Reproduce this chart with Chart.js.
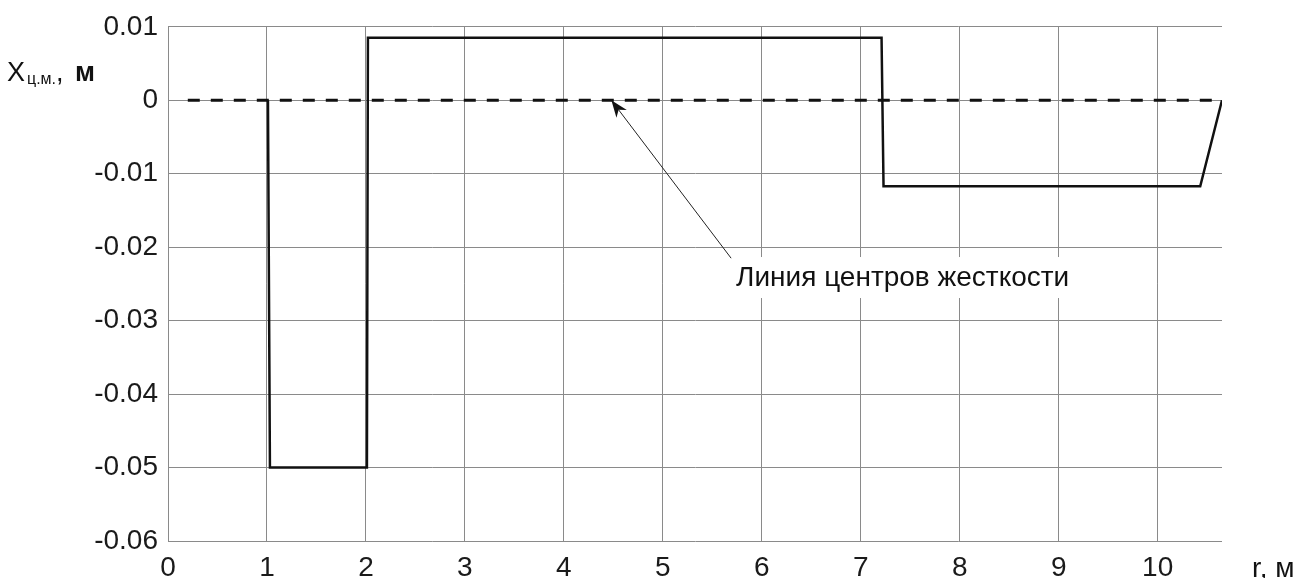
<!DOCTYPE html>
<html>
<head>
<meta charset="utf-8">
<script src="https://cdn.jsdelivr.net/npm/chart.js@4/dist/chart.umd.min.js"></script>
<style>
  html, body { margin: 0; padding: 0; background: #fff; }
  #wrap { width: 1304px; height: 578px; position: relative; }
</style>
</head>
<body>
<div id="wrap"><canvas id="c" width="1304" height="578"></canvas></div>
<script>
// Radial coordinate r, m, and offset of the mass centre x_ц.м., m
const profileR = [1.01, 1.03, 2.01, 2.02, 7.21, 7.23, 10.43, 10.65];
const profileX = [0, -0.05, -0.05, 0.0085, 0.0085, -0.0117, -0.0117, 0];

// Line of stiffness centres (lies on zero)
const stiffR = [0.2, 10.65];
const stiffX = [0, 0];

// Axis ranges and ticks
const rTicks = [0, 1, 2, 3, 4, 5, 6, 7, 8, 9, 10];
const rMax = 10.65;
const xTicks = [0.01, 0, -0.01, -0.02, -0.03, -0.04, -0.05, -0.06];

// Callout: arrow from the label to the stiffness line
const calloutText = 'Линия центров жесткости';
const calloutTip = { r: 4.48, x: 0 };
const calloutTail = { r: 5.69, x: -0.0215 };
const calloutLabel = { r: 5.74, x: -0.0242 };

const FONT = '"Liberation Sans", Arial, sans-serif';
const GRID = '#8a8a8a';

const toPoints = (rs, xs) => rs.map((r, i) => ({ x: r, y: xs[i] }));

const decorations = {
  id: 'decorations',
  afterDatasetsDraw(chart) {
    const { ctx, scales } = chart;
    const sx = scales.x, sy = scales.y;

    // callout label with white backing
    ctx.save();
    ctx.font = '28px ' + FONT;
    const lx = sx.getPixelForValue(calloutLabel.r);
    const ly = sy.getPixelForValue(calloutLabel.x);
    const w = ctx.measureText(calloutText).width;
    ctx.fillStyle = '#fff';
    ctx.fillRect(lx - 3, ly - 21, w + 6, 41);
    ctx.fillStyle = '#111';
    ctx.textAlign = 'left';
    ctx.textBaseline = 'middle';
    ctx.fillText(calloutText, lx, ly);

    // arrow
    const tx = sx.getPixelForValue(calloutTip.r), ty = sy.getPixelForValue(calloutTip.x);
    const ax = sx.getPixelForValue(calloutTail.r), ay = sy.getPixelForValue(calloutTail.x);
    const ang = Math.atan2(ty - ay, tx - ax);
    const headLen = 17, headW = 6.5;
    const c = Math.cos(ang), s = Math.sin(ang);
    ctx.strokeStyle = '#222';
    ctx.lineWidth = 1;
    ctx.beginPath();
    ctx.moveTo(ax, ay);
    ctx.lineTo(tx - c * (headLen - 5), ty - s * (headLen - 5));
    ctx.stroke();
    ctx.fillStyle = '#111';
    ctx.beginPath();
    ctx.moveTo(tx, ty);
    const bx = tx - c * headLen, by = ty - s * headLen;
    ctx.lineTo(bx + s * headW, by - c * headW);
    ctx.lineTo(tx - c * (headLen - 5), ty - s * (headLen - 5));
    ctx.lineTo(bx - s * headW, by + c * headW);
    ctx.closePath();
    ctx.fill();

    // axis titles
    ctx.fillStyle = '#111';
    ctx.textAlign = 'left';
    ctx.textBaseline = 'alphabetic';
    ctx.font = '27px ' + FONT;
    ctx.fillText('X', 7, 81);
    ctx.font = '16px ' + FONT;
    ctx.fillText('ц.м.', 27, 84);
    ctx.font = '27px ' + FONT;
    ctx.fillText(',', 56, 81);
    ctx.font = 'bold 27px ' + FONT;
    ctx.fillText('м', 75, 81);

    ctx.font = '28px ' + FONT;
    ctx.fillText('r, м', 1252, 577);
    ctx.restore();
  }
};

new Chart(document.getElementById('c'), {
  type: 'scatter',
  data: {
    datasets: [
      {
        data: toPoints(stiffR, stiffX),
        showLine: true,
        borderColor: '#111',
        borderWidth: 3,
        borderDash: [12, 11],
        pointRadius: 0,
        fill: false
      },
      {
        data: toPoints(profileR, profileX),
        showLine: true,
        borderColor: '#111',
        borderWidth: 2.5,
        pointRadius: 0,
        fill: false,
        borderJoinStyle: 'miter'
      }
    ]
  },
  options: {
    responsive: false,
    animation: false,
    layout: { padding: { top: 24, right: 82, left: 0, bottom: 0 } },
    plugins: { legend: { display: false }, tooltip: { enabled: false } },
    scales: {
      x: {
        type: 'linear',
        min: 0,
        max: rMax,
        afterFit(s) { s.height = 37; },
        afterBuildTicks(s) { s.ticks = rTicks.map(v => ({ value: v })); },
        grid: { color: GRID, lineWidth: 1, drawTicks: false },
        border: { display: false },
        ticks: {
          padding: 10,
          color: '#1a1a1a',
          font: { family: FONT, size: 28 },
          maxRotation: 0,
          callback: v => String(v)
        }
      },
      y: {
        type: 'linear',
        min: -0.06,
        max: 0.01,
        afterFit(s) { s.width = 168; },
        afterBuildTicks(s) { s.ticks = xTicks.map(v => ({ value: v })); },
        grid: { color: GRID, lineWidth: 1, drawTicks: false },
        border: { display: true, color: GRID },
        ticks: {
          padding: 10,
          color: '#1a1a1a',
          font: { family: FONT, size: 28 },
          callback: v => { const r = Math.round(v * 100) / 100; return r === 0 ? '0' : String(r); }
        }
      }
    }
  },
  plugins: [decorations]
});
</script>
</body>
</html>
